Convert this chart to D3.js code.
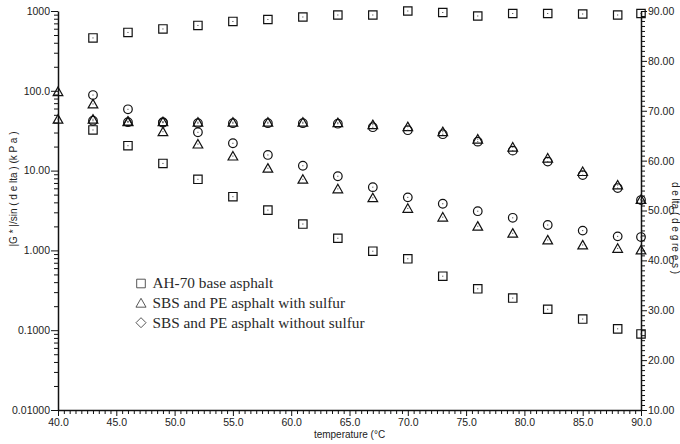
<!DOCTYPE html>
<html>
<head>
<meta charset="utf-8">
<script src="https://cdn.jsdelivr.net/npm/d3@7"></script>
<style>
  body { margin: 0; background: #fff; }
  svg { display: block; }
  text { font-family: "Liberation Sans", Arial, sans-serif; }
</style>
</head>
<body>
<svg id="chart" width="680" height="444"></svg>
<script>
// Test temperatures (°C)
const temperature = [40, 43, 46, 49, 52, 55, 58, 61, 64, 67, 70, 73, 76, 79, 82, 85, 88, 90];

// |G*|/sin(delta), kPa (left, log axis)
const baseModulus      = [null, 32.3, 20.5, 12.3, 7.78, 4.71, 3.20, 2.14, 1.42, 0.977, 0.785, 0.475, 0.330, 0.253, 0.183, 0.138, 0.104, 0.0897];
const sulfurModulus    = [97.5, 68.4, 41.0, 30.7, 21.5, 15.2, 10.7, 7.78, 5.90, 4.56, 3.36, 2.61, 2.01, 1.64, 1.35, 1.17, 1.06, 1.01];
const noSulfurModulus  = [null, 88.5, 58.6, 40.5, 30.2, 22.0, 15.7, 11.5, 8.50, 6.20, 4.62, 3.84, 3.10, 2.56, 2.08, 1.77, 1.50, 1.47];

// phase angle delta, degrees (right axis)
const basePhase     = [null, 84.6, 85.7, 86.4, 87.1, 87.9, 88.3, 88.8, 89.2, 89.2, 90.0, 89.7, 89.0, 89.5, 89.5, 89.4, 89.2, 89.5];
const sulfurPhase   = [68.3, 68.3, 67.9, 67.8, 67.7, 67.7, 67.7, 67.7, 67.6, 67.2, 66.8, 65.8, 64.3, 62.7, 60.5, 57.8, 55.1, 52.2];
const noSulfurPhase = [null, 68.0, 67.7, 67.6, 67.5, 67.5, 67.5, 67.5, 67.4, 66.7, 66.1, 65.3, 63.8, 62.0, 59.8, 57.1, 54.5, 52.1];

// axis ticks
const xTicks = [40, 45, 50, 55, 60, 65, 70, 75, 80, 85, 90];
const xTickLabels = ["40.0", "45.0", "50.0", "55.0", "60.0", "65.0", "70.0", "75.0", "80.0", "85.0", "90.0"];
const leftTicks = [0.01, 0.1, 1, 10, 100, 1000];
const leftTickLabels = ["0.01000", "0.1000", "1.000", "10.00", "100.0", "1000"];
const rightTicks = [10, 20, 30, 40, 50, 60, 70, 80, 90];
const rightTickLabels = ["10.00", "20.00", "30.00", "40.00", "50.00", "60.00", "70.00", "80.00", "90.00"];

const legendLabels = ["AH-70 base asphalt", "SBS and PE asphalt with sulfur", "SBS and PE asphalt without sulfur"];

const svg = d3.select("#chart");
const W = 680, H = 444;
const margin = { top: 11, right: 39, bottom: 34, left: 58 };
const x0 = margin.left, x1 = W - margin.right, y0 = H - margin.bottom, y1 = margin.top;

const x = d3.scaleLinear().domain([40, 90]).range([x0, x1]);
const yL = d3.scaleLog().domain([0.01, 1000]).range([y0, y1]);
const yR = d3.scaleLinear().domain([10, 90]).range([y0, y1]);

const ink = "#111";

function styleAxis(g) {
  g.selectAll("path.domain").attr("stroke", ink).attr("stroke-width", 1.5);
  g.selectAll(".tick line").attr("stroke", ink).attr("stroke-width", 1);
  g.selectAll(".tick text").attr("fill", "#222").style("font-size", "10.5px")
    .style("font-family", "'Liberation Sans', Arial, sans-serif");
}

// minor ticks
const xMinor = d3.range(40, 90.01, 0.5).filter(v => v % 5 !== 0);
const leftMinor = [];
[0.01, 0.1, 1, 10, 100].forEach(d => { for (let k = 2; k <= 9; k++) leftMinor.push(d * k); });
const rightMinor = d3.range(10, 90.01, 1).filter(v => v % 10 !== 0);

svg.append("g").attr("transform", `translate(0,${y0})`)
  .call(d3.axisBottom(x).tickValues(xMinor).tickSize(4).tickFormat(""))
  .call(g => g.select(".domain").remove()).call(styleAxis);
svg.append("g").attr("transform", `translate(${x0},0)`)
  .call(d3.axisLeft(yL).tickValues(leftMinor).tickSize(4).tickFormat(""))
  .call(g => g.select(".domain").remove()).call(styleAxis);
svg.append("g").attr("transform", `translate(${x1},0)`)
  .call(d3.axisRight(yR).tickValues(rightMinor).tickSize(4).tickFormat(""))
  .call(g => g.select(".domain").remove()).call(styleAxis);

// major axes
svg.append("g").attr("transform", `translate(0,${y0})`)
  .call(d3.axisBottom(x).tickValues(xTicks).tickSize(6).tickSizeOuter(0).tickPadding(3)
    .tickFormat((d, i) => xTickLabels[i]))
  .call(styleAxis);
svg.append("g").attr("transform", `translate(${x0},0)`)
  .call(d3.axisLeft(yL).tickValues(leftTicks).tickSize(7).tickSizeOuter(0).tickPadding(1)
    .tickFormat((d, i) => leftTickLabels[i]))
  .call(styleAxis);
svg.append("g").attr("transform", `translate(${x1},0)`)
  .call(d3.axisRight(yR).tickValues(rightTicks).tickSize(6).tickSizeOuter(0).tickPadding(1)
    .tickFormat((d, i) => rightTickLabels[i]))
  .call(styleAxis);

// axis titles
svg.append("text")
  .attr("transform", `translate(${(x0 + x1) / 2 + 0},438)`)
  .attr("text-anchor", "middle").attr("fill", "#222").style("font-size", "10px")
  .text("temperature (°C");
svg.append("text")
  .attr("transform", "translate(17,189) rotate(-90)")
  .attr("text-anchor", "middle").attr("fill", "#222").style("font-size", "10px")
  .text("|G * |/sin ( d e lta ) (k P a )");
svg.append("text")
  .attr("transform", "translate(672,228) rotate(90)")
  .attr("text-anchor", "middle").attr("fill", "#222").style("font-size", "10px")
  .text("d e lta ( d e g re e s )");

// marker shapes
const shapes = {
  square: s => `M${-s},${-s}H${s}V${s}H${-s}Z`,
  triangle: s => `M0,${-s}L${s * 1.05},${s * 0.85}L${-s * 1.05},${s * 0.85}Z`,
  circle: s => `M${s},0A${s},${s} 0 1,1 ${-s},0A${s},${s} 0 1,1 ${s},0Z`,
  diamond: s => `M0,${-s}L${s},0L0,${s}L${-s},0Z`
};
const sizes = { square: 4.2, triangle: 4.6, circle: 4.3 };

const series = [
  { values: baseModulus, y: yL, shape: "square" },
  { values: basePhase, y: yR, shape: "square" },
  { values: sulfurModulus, y: yL, shape: "triangle" },
  { values: sulfurPhase, y: yR, shape: "triangle" },
  { values: noSulfurModulus, y: yL, shape: "circle" },
  { values: noSulfurPhase, y: yR, shape: "circle" }
];

series.forEach(s => {
  const pts = temperature.map((t, i) => ({ t, v: s.values[i] })).filter(p => p.v != null);
  const g = svg.append("g");
  const m = g.selectAll("g").data(pts).join("g")
    .attr("transform", p => `translate(${x(p.t)},${s.y(p.v)})`);
  m.append("path").attr("d", shapes[s.shape](sizes[s.shape]))
    .attr("fill", "none").attr("stroke", ink).attr("stroke-width", 1.2);
  m.append("rect").attr("x", -0.5).attr("y", -0.5).attr("width", 1).attr("height", 1).attr("fill", "#333");
});

// legend
const legendShapes = ["square", "triangle", "diamond"];
const legendSizes = [4.3, 4.8, 5];
const leg = svg.append("g");
legendLabels.forEach((label, i) => {
  const cy = 283.5 + i * 19.6;
  leg.append("path").attr("transform", `translate(141,${cy})`)
    .attr("d", shapes[legendShapes[i]](legendSizes[i]))
    .attr("fill", "none").attr("stroke", "#444").attr("stroke-width", 0.9);
  leg.append("text").attr("x", 152.5).attr("y", cy + 4.8)
    .style("font-family", "'Liberation Serif', 'Times New Roman', serif")
    .style("font-size", "15.3px").attr("fill", "#2a2a2a").text(label);
});
</script>
</body>
</html>
